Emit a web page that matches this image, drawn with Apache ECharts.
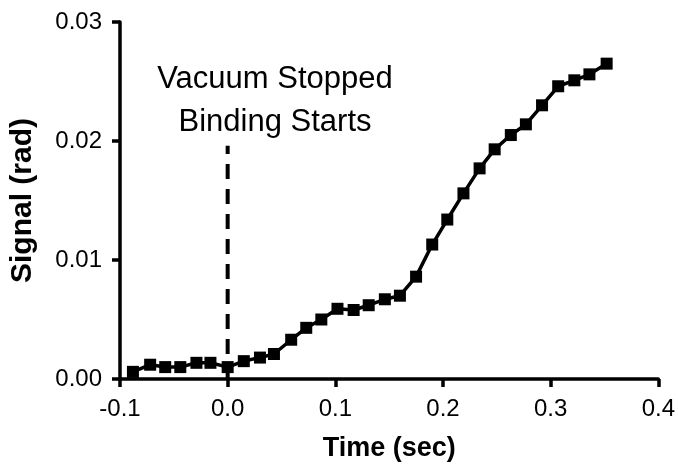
<!DOCTYPE html>
<html>
<head>
<meta charset="utf-8">
<script src="https://cdn.jsdelivr.net/npm/echarts@6/dist/echarts.min.js"></script>
<style>
  html, body { margin: 0; padding: 0; background: #fff; }
  #chart { width: 678px; height: 467px; }
</style>
</head>
<body>
<div id="chart"></div>
<script>
// time points (sec)
const timeSec = [-0.088, -0.072, -0.058, -0.044, -0.029, -0.016, 0.0, 0.015, 0.030, 0.043,
  0.059, 0.073, 0.087, 0.102, 0.117, 0.131, 0.146, 0.160, 0.175, 0.190,
  0.204, 0.219, 0.234, 0.248, 0.263, 0.277, 0.292, 0.307, 0.322, 0.336, 0.352]
// signal (rad)
const signal = [0.0006, 0.0012, 0.0010, 0.0010, 0.00136, 0.00136, 0.0010, 0.0015, 0.0018, 0.0021,
  0.0033, 0.0043, 0.0050, 0.0059, 0.0058, 0.0062, 0.0067, 0.0070, 0.0086, 0.0113,
  0.0134, 0.0156, 0.0177, 0.0193, 0.0205, 0.0214, 0.0230, 0.0246, 0.0251, 0.0256, 0.0265]

// vacuum stopped marker (x = 0)
const markerTime = [0, 0]
const markerSignal = [0, 0.0196]
const annotation = ['Vacuum Stopped', 'Binding Starts']

const font = '"Liberation Sans", Arial, sans-serif'

const chart = echarts.init(document.getElementById('chart'))

const option = {
  animation: false,
  grid: { left: 117, right: 19, top: 22, bottom: 85 },
  xAxis: {
    type: 'value',
    min: -0.1,
    max: 0.4,
    interval: 0.1,
    name: 'Time (sec)',
    nameLocation: 'middle',
    nameGap: 56,
    nameTextStyle: { fontFamily: font, fontSize: 27, fontWeight: 'bold', color: '#000' },
    axisLine: { onZero: false, lineStyle: { color: '#000', width: 3.5 } },
    axisTick: { length: 8, lineStyle: { color: '#000', width: 3.5 } },
    axisLabel: {
      fontFamily: font, fontSize: 24, color: '#000', margin: 18,
      formatter: v => v.toFixed(1)
    },
    splitLine: { show: false }
  },
  yAxis: {
    type: 'value',
    min: 0,
    max: 0.03,
    interval: 0.01,
    name: 'Signal (rad)',
    nameLocation: 'middle',
    nameGap: 82,
    nameTextStyle: { fontFamily: font, fontSize: 30, fontWeight: 'bold', color: '#000' },
    axisLine: { show: true, onZero: false, lineStyle: { color: '#000', width: 3.5 } },
    axisTick: { show: true, length: 8, lineStyle: { color: '#000', width: 3.5 } },
    axisLabel: {
      fontFamily: font, fontSize: 24, color: '#000', margin: 18,
      formatter: v => v.toFixed(2)
    },
    splitLine: { show: false }
  },
  series: [
    {
      type: 'line',
      data: markerTime.map((t, i) => [t, markerSignal[i]]),
      symbol: 'none',
      lineStyle: { color: '#000', width: 4, type: [15, 10] },
      z: 1
    },
    {
      type: 'line',
      data: timeSec.map((t, i) => [t, signal[i]]),
      symbol: 'rect',
      symbolSize: 12,
      itemStyle: { color: '#000' },
      lineStyle: { color: '#000', width: 3.5 },
      z: 3
    }
  ],
  graphic: [
    {
      type: 'text',
      x: 275,
      y: 58,
      style: {
        text: annotation.join('\n'),
        fontFamily: font,
        fontSize: 31,
        lineHeight: 43,
        align: 'center',
        fill: '#000'
      }
    }
  ]
}

chart.setOption(option)
</script>
</body>
</html>
